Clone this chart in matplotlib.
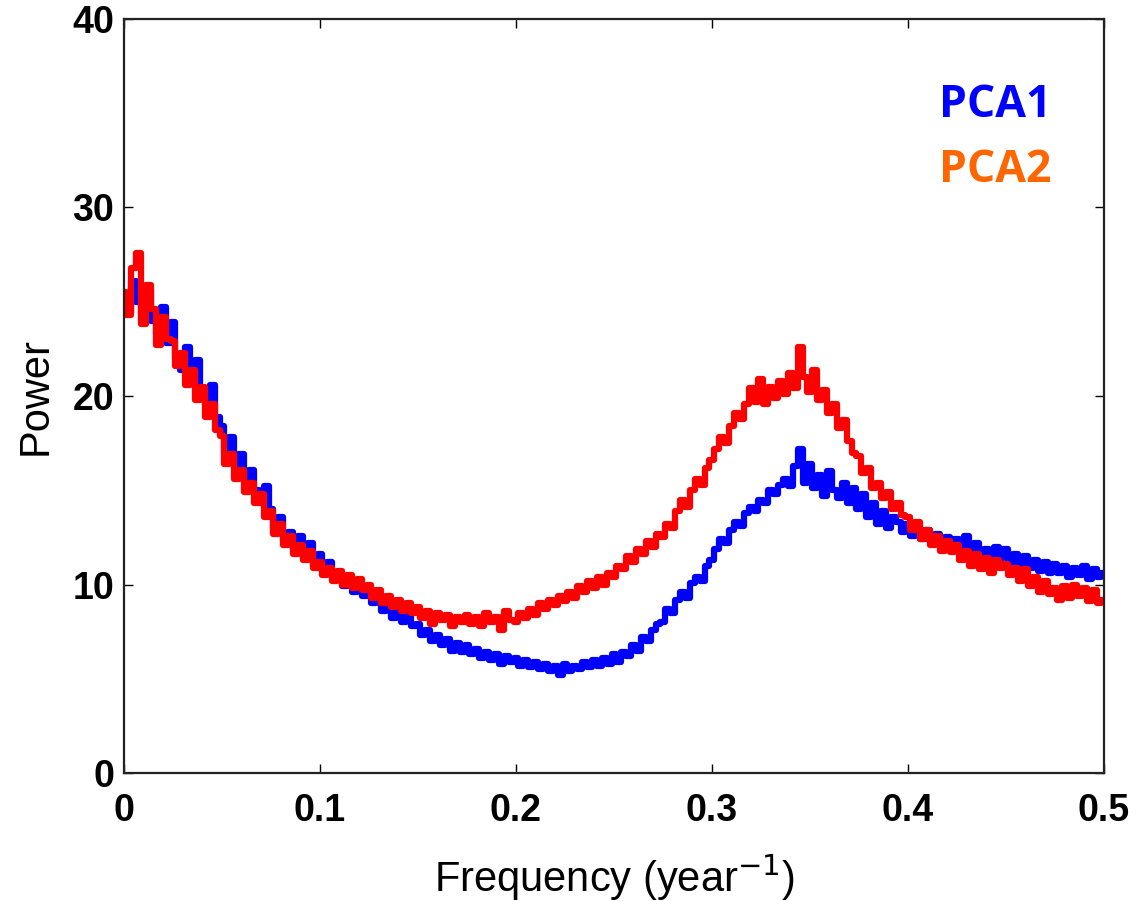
import numpy as np
import matplotlib
matplotlib.use("Agg")
import matplotlib.pyplot as plt

# frequency grid (year^-1), step 0.0025
freq = np.arange(201) * 0.0025

# PCA1 power spectrum
pca1 = [
    25.2, 24.4, 26.1, 25.0, 24.2, 25.6, 24.0, 23.3, 24.7, 22.8,
    23.9, 22.0, 21.4, 22.6, 20.8, 21.9, 20.3, 19.5, 20.6, 18.9,
    18.4, 17.0, 17.8, 16.2, 16.9, 15.4, 16.1, 15.0, 14.3, 15.2,
    14.0, 12.9, 13.6, 12.3, 12.8, 11.9, 12.6, 11.4, 12.2, 11.0,
    11.6, 10.8, 11.2, 10.3, 10.6, 9.9, 10.4, 9.6, 10.1, 9.4,
    9.8, 9.0, 9.3, 8.6, 8.9, 8.2, 8.7, 8.0, 8.4, 7.8,
    7.9, 7.3, 7.6, 7.0, 7.3, 6.8, 7.1, 6.5, 6.9, 6.4,
    6.8, 6.3, 6.6, 6.1, 6.4, 6.0, 6.3, 5.8, 6.2, 5.9,
    6.1, 5.7, 6.0, 5.6, 5.9, 5.5, 5.8, 5.4, 5.7, 5.2,
    5.8, 5.4, 5.7, 5.5, 5.9, 5.6, 6.0, 5.7, 6.1, 5.8,
    6.3, 5.9, 6.4, 6.2, 6.8, 6.5, 7.2, 7.0, 7.6, 7.9,
    8.0, 8.7, 8.5, 9.2, 9.6, 9.3, 10.1, 10.4, 10.2, 11.0,
    11.3, 11.9, 12.4, 12.2, 12.9, 13.3, 13.1, 13.8, 14.1, 13.9,
    14.5, 14.3, 15.0, 14.8, 15.3, 15.6, 15.2, 16.3, 17.2, 15.4,
    16.4, 15.1, 15.8, 14.7, 16.0, 15.0, 14.6, 15.4, 14.3, 15.1,
    14.0, 14.8, 13.6, 14.3, 13.2, 13.9, 13.0, 13.6, 13.3, 12.8,
    13.2, 12.6, 13.0, 12.4, 12.9, 12.2, 12.7, 12.0, 12.5, 11.9,
    12.4, 11.7, 12.6, 11.5, 12.2, 11.3, 11.9, 11.1, 12.0, 11.4,
    11.9, 11.0, 11.6, 10.8, 11.5, 10.9, 11.3, 10.7, 11.2, 10.6,
    11.1, 10.6, 11.0, 10.4, 10.9, 10.5, 11.0, 10.3, 10.8, 10.4,
    10.6,
]

# PCA2 power spectrum
pca2 = [
    25.5, 24.3, 26.8, 27.6, 23.8, 25.9, 24.6, 22.7, 24.2, 23.0,
    22.9, 21.6, 22.3, 20.6, 21.4, 19.8, 20.5, 18.9, 19.6, 18.2,
    17.9, 16.4, 16.9, 15.6, 16.1, 14.9, 15.4, 14.3, 14.8, 13.6,
    13.9, 12.7, 13.2, 12.1, 12.6, 11.6, 12.1, 11.3, 11.8, 10.9,
    11.2, 10.5, 10.9, 10.2, 10.7, 10.0, 10.5, 9.8, 10.3, 9.7,
    10.0, 9.3, 9.7, 9.0, 9.4, 8.8, 9.2, 8.6, 9.0, 8.5,
    8.8, 8.2, 8.6, 7.9, 8.5, 8.1, 8.4, 7.8, 8.3, 8.0,
    8.4, 7.9, 8.3, 7.8, 8.5, 8.0, 8.3, 7.6, 8.6, 8.1,
    8.0, 8.5, 8.2, 8.7, 8.4, 9.0, 8.7, 9.2, 8.9, 9.4,
    9.1, 9.6, 9.3, 9.9, 9.6, 10.2, 9.8, 10.4, 10.0, 10.6,
    10.4, 11.0, 10.8, 11.5, 11.2, 11.9, 11.6, 12.3, 12.0, 12.7,
    12.5, 13.2, 13.0, 13.9, 14.5, 14.1, 15.0, 15.6, 15.3, 16.2,
    16.6, 17.2, 17.8, 17.5, 18.4, 19.1, 18.8, 19.6, 20.4, 19.7,
    20.9, 19.6, 20.5, 19.9, 20.8, 20.1, 21.2, 20.4, 22.6, 21.0,
    20.2, 21.4, 19.8, 20.3, 19.1, 19.6, 18.3, 18.7, 17.6, 17.0,
    16.8, 15.9, 16.2, 15.1, 15.4, 14.6, 14.9, 14.0, 14.3, 13.7,
    13.6, 12.9, 13.3, 12.4, 12.9, 12.1, 12.6, 11.8, 12.3, 11.7,
    12.1, 11.3, 11.8, 11.0, 11.6, 10.8, 11.4, 10.6, 11.3, 10.9,
    11.1, 10.5, 10.9, 10.2, 10.8, 9.9, 10.4, 9.6, 10.2, 9.5,
    9.8, 9.2, 9.9, 9.3, 10.0, 9.4, 9.8, 9.1, 9.7, 9.0,
    9.2,
]

xticks = [0, 0.1, 0.2, 0.3, 0.4, 0.5]
xticklabels = ["0", "0.1", "0.2", "0.3", "0.4", "0.5"]
yticks = [0, 10, 20, 30, 40]

plt.rcParams["font.family"] = ["Liberation Sans", "DejaVu Sans"]

fig = plt.figure(figsize=(11.38, 9.01), dpi=100)
ax = fig.add_axes([0.109, 0.142, 0.861, 0.837])

ax.plot(freq, pca1, color="#0000ff", lw=4.5, drawstyle="steps-mid")
ax.plot(freq, pca2, color="#ff0000", lw=4.5, drawstyle="steps-mid")

ax.set_xlim(0, 0.5)
ax.set_ylim(0, 40)
ax.set_xticks(xticks)
ax.set_xticklabels(xticklabels)
ax.set_yticks(yticks)
ax.tick_params(direction="in", length=6.5, width=1.0, top=True, right=True,
               labelsize=27)
ax.tick_params(axis="x", pad=14)
ax.tick_params(axis="y", pad=7)
for lab in ax.get_xticklabels() + ax.get_yticklabels():
    lab.set_fontweight("bold")
for sp in ax.spines.values():
    sp.set_linewidth(1.6)
    sp.set_color("#222222")

ax.set_ylabel("Power", fontsize=30, labelpad=12)
ax.set_xlabel("Frequency (year$^{-1}$)", fontsize=30)
ax.xaxis.label.set_va("baseline")
ax.xaxis.set_label_coords(0.5, -0.1576)

fig.text(0.924, 0.870, "PCA1", color="#0000ff", fontsize=32,
         fontweight="bold", ha="right", va="baseline", family="Open Sans")
fig.text(0.924, 0.798, "PCA2", color="#ff6600", fontsize=32,
         fontweight="bold", ha="right", va="baseline", family="Open Sans")

fig.savefig("out.png", dpi=100)
